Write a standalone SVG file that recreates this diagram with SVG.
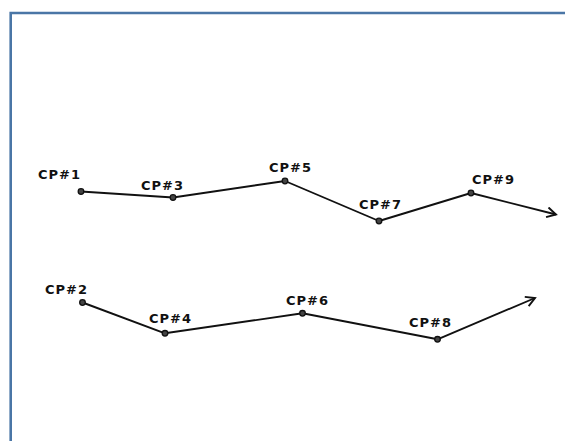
<svg xmlns="http://www.w3.org/2000/svg" width="565" height="441" viewBox="0 0 565 441">
<defs>
<style>
.lbl{font-family:"DejaVu Sans","Liberation Sans",sans-serif;font-weight:bold;font-size:13px;letter-spacing:1px;fill:#111}
.ln{fill:none;stroke:#111;stroke-width:1.9;stroke-linejoin:round}
.cp{fill:#444;stroke:#111;stroke-width:1.3}
</style>
<marker id="arr" markerWidth="12" markerHeight="12" refX="10" refY="6" orient="auto" markerUnits="userSpaceOnUse">
<path d="M1,1 L10,6 L1,11" fill="none" stroke="#111" stroke-width="1.9"/>
</marker>
</defs>
<rect width="565" height="441" fill="#fff"/>
<path d="M10.7,441 V13 H565" fill="none" stroke="#4a76a6" stroke-width="2.6"/>
<g id="connectors">
<polyline class="ln" points="81,191.5 173,197.5 285,181 379,221 471,193 556,214.5" marker-end="url(#arr)"/>
<polyline class="ln" points="82.5,302.5 165,333.3 302.5,313.3 437.5,339.3 535,298" marker-end="url(#arr)"/>
</g>
<g id="cp1"><circle class="cp" cx="81" cy="191.5" r="2.8"/><text class="lbl" x="38" y="178.5">CP#1</text></g>
<g id="cp3"><circle class="cp" cx="173" cy="197.5" r="2.8"/><text class="lbl" x="141" y="189.5">CP#3</text></g>
<g id="cp5"><circle class="cp" cx="285" cy="181" r="2.8"/><text class="lbl" x="269" y="172">CP#5</text></g>
<g id="cp7"><circle class="cp" cx="379" cy="221" r="2.8"/><text class="lbl" x="359" y="209">CP#7</text></g>
<g id="cp9"><circle class="cp" cx="471" cy="193" r="2.8"/><text class="lbl" x="472" y="183.5">CP#9</text></g>
<g id="cp2"><circle class="cp" cx="82.5" cy="302.5" r="2.8"/><text class="lbl" x="45" y="294">CP#2</text></g>
<g id="cp4"><circle class="cp" cx="165" cy="333.3" r="2.8"/><text class="lbl" x="149" y="322.5">CP#4</text></g>
<g id="cp6"><circle class="cp" cx="302.5" cy="313.3" r="2.8"/><text class="lbl" x="286" y="305">CP#6</text></g>
<g id="cp8"><circle class="cp" cx="437.5" cy="339.3" r="2.8"/><text class="lbl" x="409" y="327">CP#8</text></g>
</svg>
